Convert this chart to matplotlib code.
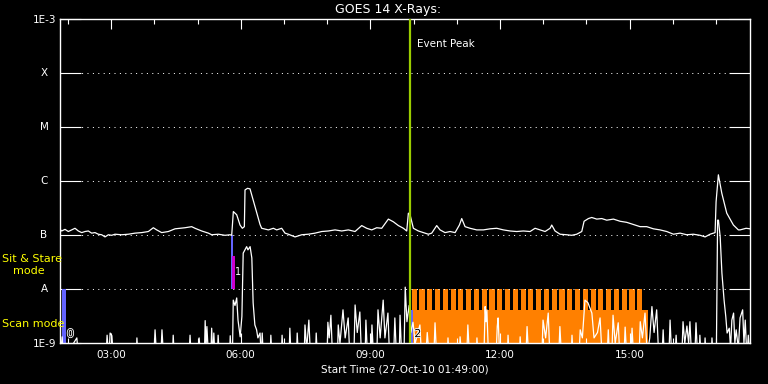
import numpy as np
import matplotlib
matplotlib.use("Agg")
import matplotlib.pyplot as plt
import matplotlib.patheffects as pe
from matplotlib.transforms import blended_transform_factory

# hours since start (27-Oct-10 01:49:00), values as log10(W/m^2)
long_t = [0.0, 0.039, 0.116, 0.193, 0.27, 0.347, 0.424, 0.502, 0.579, 0.656, 0.733, 0.81,
          0.887, 0.965, 1.042, 1.119, 1.196, 1.273, 1.427, 1.582, 1.736, 1.89, 2.045, 2.16,
          2.238, 2.353, 2.508, 2.662, 2.778, 2.894, 3.048, 3.125, 3.279, 3.434, 3.511, 3.665,
          3.819, 3.935, 3.974, 4.012, 4.09, 4.167, 4.22, 4.267, 4.282, 4.34, 4.398, 4.514,
          4.63, 4.668, 4.823, 4.938, 5.015, 5.131, 5.208, 5.285, 5.44, 5.594, 5.748, 5.903,
          6.057, 6.211, 6.366, 6.52, 6.674, 6.829, 6.983, 7.099, 7.215, 7.33, 7.446, 7.6,
          7.716, 7.832, 7.948, 8.025, 8.063, 8.102, 8.179, 8.295, 8.41, 8.526, 8.603, 8.719,
          8.796, 8.912, 9.028, 9.144, 9.244, 9.298, 9.375, 9.491, 9.645, 9.799, 9.954, 10.108,
          10.262, 10.417, 10.571, 10.725, 10.88, 10.995, 11.111, 11.227, 11.343, 11.381, 11.458,
          11.574, 11.728, 11.844, 11.96, 12.076, 12.13, 12.23, 12.307, 12.423, 12.539, 12.654,
          12.809, 12.963, 13.117, 13.272, 13.426, 13.58, 13.735, 13.889, 14.043, 14.198, 14.352,
          14.506, 14.66, 14.815, 14.931, 15.046, 15.162, 15.185, 15.238, 15.317, 15.432, 15.586,
          15.701, 15.74, 15.88, 15.972]
long_lg = [-6.89, -6.92, -6.89, -6.93, -6.90, -6.87, -6.92, -6.95, -6.93, -6.92, -6.96, -6.95,
           -6.98, -6.99, -7.03, -6.99, -7.00, -6.98, -6.99, -6.98, -6.96, -6.95, -6.93, -6.86,
           -6.90, -6.95, -6.93, -6.88, -6.87, -6.86, -6.84, -6.87, -6.92, -6.96, -6.99, -6.98,
           -7.00, -6.99, -7.00, -6.56, -6.62, -6.81, -6.87, -6.84, -6.16, -6.13, -6.14, -6.47,
           -6.80, -6.87, -6.90, -6.87, -6.90, -6.87, -6.96, -6.98, -7.03, -6.99, -6.98, -6.96,
           -6.93, -6.92, -6.90, -6.92, -6.90, -6.93, -6.82, -6.87, -6.90, -6.86, -6.87, -6.70,
           -6.75, -6.82, -6.87, -6.92, -6.59, -6.62, -6.87, -6.92, -6.95, -6.98, -6.96, -6.82,
           -6.90, -6.95, -6.93, -6.95, -6.81, -6.69, -6.84, -6.87, -6.90, -6.90, -6.88, -6.87,
           -6.90, -6.92, -6.93, -6.92, -6.93, -6.87, -6.90, -6.93, -6.87, -6.81, -6.92,
           -6.98, -6.99, -7.00, -6.98, -6.93, -6.74, -6.69, -6.67, -6.70, -6.69, -6.72,
           -6.70, -6.74, -6.76, -6.80, -6.84, -6.84, -6.88, -6.90, -6.93, -6.98, -6.96,
           -6.99, -6.98, -7.00, -7.03, -6.98, -6.95, -6.38, -5.88, -6.22, -6.59, -6.81,
           -6.90, -6.90, -6.87, -6.88]

short_t = [0.00, 0.05, 0.08, 0.39, 0.43, 1.06, 1.09, 1.13, 1.16, 1.20, 1.24, 1.76, 1.78, 1.81,
           2.17, 2.20, 2.24, 2.33, 2.36, 2.40, 2.60, 2.62, 2.65, 2.98, 3.01, 3.04, 3.20, 3.22,
           3.26, 3.34, 3.36, 3.38, 3.40, 3.44, 3.49, 3.51, 3.54, 3.56, 3.59, 3.64, 3.66, 3.69,
           3.92, 3.94, 3.97, 3.99, 4.01, 4.05, 4.09, 4.12, 4.17, 4.21, 4.24, 4.32, 4.35, 4.40,
           4.44, 4.47, 4.51, 4.55, 4.58, 4.63, 4.66, 4.68, 4.71, 4.86, 4.88, 4.91, 5.12, 5.14,
           5.17, 5.30, 5.32, 5.35, 5.47, 5.49, 5.52, 5.65, 5.67, 5.71, 5.76, 5.80, 5.91, 5.93,
           5.96, 6.18, 6.20, 6.23, 6.27, 6.31, 6.42, 6.44, 6.48, 6.55, 6.60, 6.67, 6.71, 6.80,
           6.83, 6.88, 6.94, 6.98, 7.06, 7.08, 7.12, 7.20, 7.22, 7.26, 7.33, 7.36, 7.41, 7.48,
           7.52, 7.59, 7.63, 7.72, 7.75, 7.79, 7.85, 7.87, 7.91, 7.96, 7.99, 8.03, 8.08, 8.12,
           8.17, 8.22, 8.33, 8.37, 8.46, 8.50, 8.55, 8.65, 8.68, 8.72, 8.96, 8.98, 9.01, 9.24,
           9.26, 9.30, 9.41, 9.44, 9.48, 9.63, 9.65, 9.68, 9.81, 9.84, 9.86, 9.88, 9.92, 10.09,
           10.12, 10.14, 10.18, 10.35, 10.37, 10.40, 10.63, 10.65, 10.68, 10.78, 10.81, 10.85,
           11.15, 11.18, 11.24, 11.30, 11.34, 11.54, 11.57, 11.61, 11.83, 11.85, 11.88, 12.01,
           12.04, 12.09, 12.15, 12.22, 12.31, 12.36, 12.44, 12.50, 12.55, 12.66, 12.69, 12.72,
           12.77, 12.80, 12.85, 12.92, 12.96, 13.05, 13.08, 13.12, 13.21, 13.24, 13.28, 13.40,
           13.43, 13.48, 13.54, 13.59, 13.65, 13.70, 13.75, 13.81, 13.86, 13.93, 13.96, 13.99,
           14.09, 14.12, 14.16, 14.23, 14.26, 14.29, 14.39, 14.42, 14.46, 14.51, 14.55, 14.58,
           14.62, 14.69, 14.72, 14.76, 14.79, 14.81, 14.84, 14.91, 14.93, 14.96, 15.07, 15.09,
           15.12, 15.19, 15.22, 15.24, 15.28, 15.32, 15.37, 15.41, 15.44, 15.49, 15.52, 15.55,
           15.59, 15.62, 15.65, 15.70, 15.74, 15.80, 15.83, 15.86, 15.90, 15.93, 15.97]
short_lg = [-9.3, -8.88, -9.3, -8.90, -9.3, -9.3, -8.85, -9.3, -8.81, -8.86, -9.3, -9.3, -8.90, -9.3,
            -9.3, -8.75, -9.3, -9.3, -8.75, -9.3, -9.3, -8.85, -9.3, -9.3, -8.85, -9.3, -9.3, -8.90,
            -9.3, -9.3, -8.58, -9.1, -8.69, -9.3, -9.3, -8.72, -9.3, -8.81, -9.3, -9.3, -8.85, -9.3,
            -9.3, -8.86, -9.3, -9.3, -8.20, -8.30, -8.16, -8.57, -8.88, -8.50, -7.33, -7.21, -7.27, -7.21,
            -7.42, -8.25, -8.66, -8.75, -8.90, -8.81, -9.3, -8.81, -9.3, -9.3, -8.85, -9.3, -9.3, -8.85,
            -9.3, -9.3, -8.72, -9.3, -9.3, -8.81, -9.3, -9.3, -8.66, -9.1, -8.57, -9.3, -9.3, -8.81,
            -9.3, -9.3, -8.61, -8.9, -8.48, -9.3, -9.3, -8.66, -9.0, -8.38, -8.9, -8.53, -9.3, -9.3,
            -8.29, -8.8, -8.42, -9.3, -9.3, -8.57, -9.3, -9.3, -8.66, -9.3, -9.3, -8.38, -8.9, -8.20,
            -8.9, -8.44, -9.3, -9.3, -8.53, -9.3, -9.3, -8.48, -9.3, -9.3, -7.96, -8.6, -8.3, -8.8,
            -8.61, -9.0, -8.66, -9.3, -9.3, -8.8, -9.3, -9.3, -8.62, -9.3, -9.3, -8.90, -9.3, -9.3,
            -8.88, -9.3, -9.3, -8.66, -9.3, -9.3, -8.90, -9.3, -9.3, -8.32, -8.6, -8.38, -9.3, -9.3,
            -8.69, -8.53, -9.3, -9.3, -8.85, -9.3, -9.3, -8.88, -9.3, -9.3, -8.69, -9.3,
            -9.3, -8.57, -8.9, -8.44, -9.3, -9.3, -8.69, -9.3, -9.3, -8.85, -9.3, -9.3,
            -8.75, -8.9, -8.20, -8.25, -8.44, -8.9, -8.8, -8.53, -9.3, -9.3, -8.75, -9.3,
            -9.3, -8.48, -9.0, -8.62, -9.3, -9.3, -8.70, -9.3, -9.3, -8.72, -9.3, -9.3,
            -8.60, -8.9, -8.44, -9.2, -8.9, -8.32, -8.8, -8.38, -9.3, -9.3, -8.75, -9.3,
            -9.3, -8.57, -9.3, -9.3, -8.85, -9.3, -9.3, -8.60, -9.0, -8.68, -9.0, -8.60,
            -9.3, -9.3, -8.62, -9.3, -9.3, -8.85, -9.3, -9.3, -8.90, -9.3, -9.3, -8.90,
            -9.3, -9.3, -6.72, -6.72, -7.03, -7.70, -8.20, -8.51, -8.81, -8.72, -9.1, -8.57,
            -8.44, -9.0, -8.75, -9.1, -8.53, -8.38, -9.0, -8.57, -9.3, -8.85, -9.3]

event_peak = 8.09
# observation blocks: (start hour, width hour, low log, high log)
scan0 = (0.05, 0.09, -9.0, -8.0)
sit1_blue = (3.96, 0.05, -8.0, -7.0)
sit1_mag = (3.99, 0.05, -8.0, -7.38)
scan2_blue = (8.10, 0.06, -9.0, -8.38)
scan2_band = (8.12, 13.62, -9.0, -8.38)
comb_starts = [8.14, 8.32, 8.50, 8.68, 8.86, 9.04, 9.22, 9.40, 9.58, 9.76, 9.94, 10.12,
               10.30, 10.48, 10.66, 10.84, 11.02, 11.20, 11.38, 11.56, 11.74, 11.92, 12.10,
               12.28, 12.46, 12.64, 12.82, 13.00, 13.18, 13.36]
comb_width = 0.118
comb_lo, comb_hi = -8.38, -8.0

xtick_pos = [1.1833, 4.1833, 7.1833, 10.1833, 13.1833]
xtick_lab = ["03:00", "06:00", "09:00", "12:00", "15:00"]
ytick_lab = ["1E-9", "A", "B", "C", "M", "X", "1E-3"]

W, H = 768, 384
fig = plt.figure(figsize=(W / 100, H / 100), dpi=100, facecolor="black")
ax = fig.add_axes([60 / W, 1 - 343.3 / H, 690 / W, 324 / H], facecolor="black")
ax.set_yscale("log")
ax.set_ylim(1e-9, 1e-3)
ax.set_xlim(0, 15.97)

ORANGE = "#ff8000"
BLUE = "#6464ff"
MAG = "#cc00cc"
FS = 7.5

# orange scan band + comb
ax.fill_between([scan2_band[0], scan2_band[1]], 10 ** scan2_band[2], 10 ** scan2_band[3],
                color=ORANGE, lw=0, zorder=1)
for s in comb_starts:
    ax.fill_between([s, s + comb_width], 10 ** comb_lo, 10 ** comb_hi, color=ORANGE, lw=0, zorder=1)

for (x0, w, lo, hi), c in [(scan0, BLUE), (sit1_blue, BLUE), (sit1_mag, MAG), (scan2_blue, BLUE)]:
    ax.fill_between([x0, x0 + w], 10 ** lo, 10 ** hi, color=c, lw=0, zorder=2)

# dotted decade lines
for e in range(-8, -3):
    ax.axhline(10.0 ** e, color="white", lw=0.72, ls=(0, (1, 4.4)), zorder=1.5)

ax.plot(short_t, 10 ** np.array(short_lg), color="white", lw=0.9, zorder=3)
ax.plot(long_t, 10 ** np.array(long_lg), color="white", lw=0.9, zorder=3)
ax.axvline(event_peak, color="#9acd00", lw=1.6, zorder=4)
ax.text(event_peak + 0.18, 10 ** -3.45, "Event Peak", color="white", fontsize=FS, va="center")

# block numbers (hollow look)
hollow = [pe.withStroke(linewidth=1.2, foreground="white")]
ax.text(0.16, 10 ** -8.83, "0", color="black", fontsize=8, va="center", path_effects=hollow, zorder=5)
ax.text(4.06, 10 ** -7.68, "1", color="white", fontsize=7, va="center", zorder=5)
ax.text(8.20, 10 ** -8.83, "2", color="black", fontsize=8, va="center", path_effects=hollow, zorder=5)

for sp in ax.spines.values():
    sp.set_color("white")
    sp.set_linewidth(1)

ax.set_yticks([10.0 ** e for e in range(-9, -2)])
ax.yaxis.set_minor_locator(matplotlib.ticker.NullLocator())
ax.set_yticklabels(["1E-9", "", "", "", "", "", "1E-3"])
ax.tick_params(axis="y", which="major", direction="in", length=15, width=0.8,
               colors="white", labelsize=FS, right=True, pad=3)
tr = blended_transform_factory(ax.transAxes, ax.transData)
for e, lab in zip(range(-8, -3), ytick_lab[1:-1]):
    ax.text(-16 / 690, 10.0 ** e, lab, color="white", fontsize=FS, ha="center", va="center",
            transform=tr)

ax.set_xticks(xtick_pos)
ax.set_xticklabels(xtick_lab)
ax.set_xticks(np.arange(0.1833, 15.97, 1.0), minor=True)
ax.tick_params(axis="x", which="major", direction="in", length=7, width=0.8,
               colors="white", labelsize=FS, top=True, pad=5)
ax.tick_params(axis="x", which="minor", direction="in", length=3.5, width=0.8,
               colors="white", top=True)
ax.set_xlabel("Start Time (27-Oct-10 01:49:00)", color="white", fontsize=FS, labelpad=3)

fig.text(388 / W, 1 - 9 / H, "GOES 14 X-Rays:", color="white", fontsize=9, ha="center", va="center")
fig.text(2 / W, 1 - 259 / H, "Sit & Stare", color="yellow", fontsize=8, ha="left", va="center")
fig.text(13 / W, 1 - 271 / H, "mode", color="yellow", fontsize=8, ha="left", va="center")
fig.text(2 / W, 1 - 324 / H, "Scan mode", color="yellow", fontsize=8, ha="left", va="center")

fig.savefig("out.png", dpi=100, facecolor="black")
